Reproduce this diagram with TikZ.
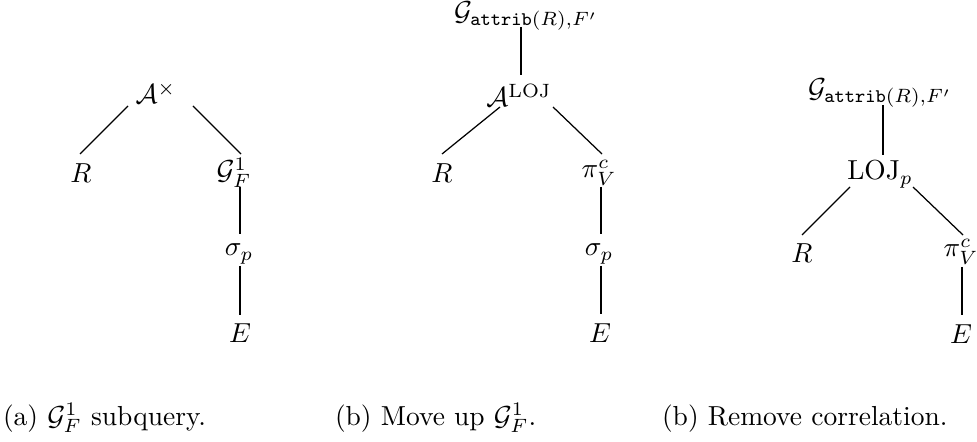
\documentclass[tikz,border=0pt]{standalone}
\usetikzlibrary{calc}
\begin{document}
\begin{tikzpicture}[x=0.3636pt,y=-0.3636pt,
  lbl/.style={inner sep=0pt,outer sep=0pt,anchor=base},
  captext/.style={inner sep=0pt,outer sep=0pt,anchor=base west,font=\normalsize},
  diag/.style={line width=0.45pt},
  vert/.style={line width=0.7pt}]
\useasboundingbox (0,0) rectangle (977,442);
% ---------- tree (a)
\node[lbl] (Ax) at (156,104) {$\mathcal{A}^{\times}$};
\node[lbl] (Ra) at (81,183) {$R$};
\node[lbl] (Ga) at (234,180) {$\mathcal{G}^1_F$};
\node[lbl] (sa) at (239,256) {$\sigma_p$};
\node[lbl] (Ea) at (240,342) {$E$};
\draw[diag] ($(Ax.base)+(-28,2)$) -- ($(Ra.base)+(-1,-29)$);
\draw[diag] ($(Ax.base)+(37,2)$) -- ($(Ga.base)+(7,-26)$);
\draw[vert] ($(Ga.base)+(6,7)$) -- ($(sa.base)+(1,-22)$);
\draw[vert] ($(sa.base)+(1,10)$) -- ($(Ea.base)+(0,-27)$);
% ---------- tree (b)
\node[lbl] (Gb) at (526,21) {$\mathcal{G}_{\mathtt{attrib}(R),F'}$};
\node[lbl] (Ab) at (519,107) {$\mathcal{A}^{\mathrm{LOJ}}$};
\node[lbl] (Rb) at (442,183) {$R$};
\node[lbl] (Pb) at (599,178) {$\pi^c_V$};
\node[lbl] (sb) at (599,256) {$\sigma_p$};
\node[lbl] (Eb) at (600,342) {$E$};
\draw[vert] ($(Gb.base)+(-5,6)$) -- ($(Ab.base)+(2,-32)$);
\draw[diag] ($(Ab.base)+(-19,0)$) -- ($(Rb.base)+(0,-29)$);
\draw[diag] ($(Ab.base)+(34,0)$) -- ($(Pb.base)+(3,-24)$);
\draw[vert] ($(Pb.base)+(2,9)$) -- ($(sb.base)+(2,-22)$);
\draw[vert] ($(sb.base)+(2,10)$) -- ($(Eb.base)+(1,-28)$);
% ---------- tree (c)
\node[lbl] (Gc) at (880,98) {$\mathcal{G}_{\mathtt{attrib}(R),F'}$};
\node[lbl] (Lc) at (880,180) {$\mathrm{LOJ}_p$};
\node[lbl] (Rc) at (802,263) {$R$};
\node[lbl] (Pc) at (961,257) {$\pi^c_V$};
\node[lbl] (Ec) at (961,343) {$E$};
\draw[vert] ($(Gc.base)+(3,7)$) -- ($(Lc.base)+(3,-25)$);
\draw[diag] ($(Lc.base)+(-30,7)$) -- ($(Rc.base)+(0,-28)$);
\draw[diag] ($(Lc.base)+(33,7)$) -- ($(Pc.base)+(2,-22)$);
\draw[vert] ($(Pc.base)+(1,10)$) -- ($(Ec.base)+(1,-28)$);
% ---------- captions
\node[captext] (ca) at (3,425) {(a) $\mathcal{G}^1_F$ subquery.};
\node[captext] (cb) at (335,425) {(b) Move up $\mathcal{G}^1_F$.};
\node[captext] (cc) at (662,425) {(b) Remove correlation.};
\end{tikzpicture}
\end{document}
